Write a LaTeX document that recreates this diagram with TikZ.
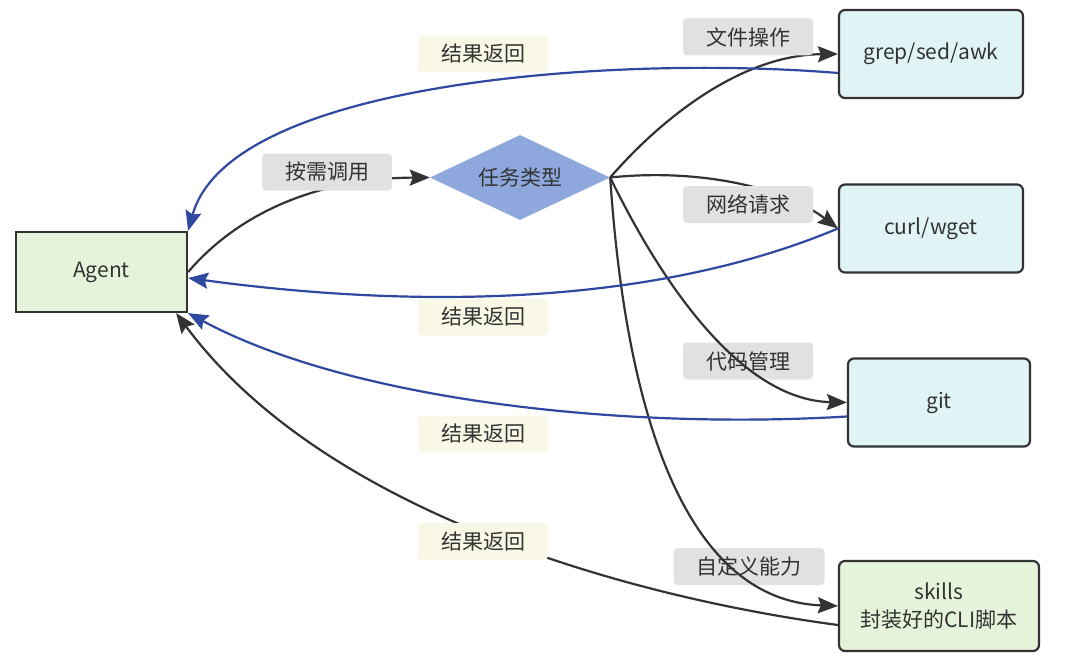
\documentclass[tikz,border=0pt]{standalone}
\usepackage{fontspec}
\setmainfont{Noto Sans CJK SC}
\usetikzlibrary{shapes.geometric,arrows.meta}

\definecolor{agentgreen}{HTML}{E6F3DB}
\definecolor{toolcyan}{HTML}{E0F4F6}
\definecolor{typeblue}{HTML}{8EA8DE}
\definecolor{labelgray}{HTML}{E1E1E1}
\definecolor{labelcream}{HTML}{F9F8E7}
\definecolor{backblue}{HTML}{2F48A0}
\definecolor{linegray}{HTML}{333333}

\begin{document}
\begin{tikzpicture}[x=1pt,y=-1pt,
		font=\fontsize{21}{28}\selectfont, text=linegray,
		box/.style={draw=linegray,line width=2.2pt,align=center,inner sep=0pt},
		agentbox/.style={box,fill=agentgreen,minimum width=171pt,minimum height=80pt},
		toolbox/.style={box,fill=toolcyan,rounded corners=6pt,minimum width=184pt,minimum height=88pt},
		callarrow/.style={draw=linegray,line width=2.2pt,-{Stealth[length=20pt,width=16pt,inset=3pt]}},
		backarrow/.style={callarrow,draw=backblue},
		tag/.style={fill=labelgray,rounded corners=4pt,inner xsep=23pt,inner ysep=0pt,minimum height=37pt},
		backtag/.style={tag,fill=labelcream}]
		
		\path[fill=white,use as bounding box] (0,0) rectangle (1080,669);
		
		% Boxes
		\node[agentbox] (agent) at (101.5,272) {Agent};
		\node[diamond,aspect=2.2,fill=typeblue,inner sep=0pt,minimum width=180pt,minimum height=85pt] (type) at (520,177.5) {任务类型};
		\node[toolbox] (grep) at (931,54) {grep/sed/awk};
		\node[toolbox] (curl) at (931,228.5) {curl/wget};
		\node[toolbox,minimum width=182pt] (git) at (939,402.5) {git};
		\node[toolbox,fill=agentgreen,minimum width=200pt,minimum height=90pt] (skills) at (939,606) {skills\\封装好的CLI脚本};
		
		% Labels under the lines
		\node[tag] (codeTag) at (748,361) {代码管理};
		\node[tag] (skillTag) at (749,566.5) {自定义能力};
		
		% Calls
		\draw[callarrow] (agent.east) .. controls (250,200) and (340,178) .. (type.west);
		\draw[callarrow] (type.east) .. controls (660,120) and (740,55) .. (grep.west);
		\draw[callarrow] (type.east) .. controls (700,168) and (785,188) .. (curl.west);
		\draw[callarrow] (type.east) .. controls (660,280) and (740,400) .. (git.west);
		\draw[callarrow] (type.east) .. controls (625,400) and (680,600) .. (skills.west);
		
		% Returns
		\draw[backarrow] ([yshift=-19pt]grep.west) .. controls (620,55) and (230,80) .. (agent.north east);
		\draw[backarrow] (curl.west) .. controls (620,320) and (350,300) .. ([yshift=-6pt]agent.east);
		\draw[backarrow] ([yshift=-14pt]git.west) .. controls (620,430) and (350,400) .. (agent.south east);
		\draw[callarrow] ([yshift=-19pt]skills.west) .. controls (650,600) and (330,520) .. ([xshift=-12pt]agent.south east);
		
		% Labels over the lines
		\node[tag] (callTag) at (327,172) {按需调用};
		\node[tag] (fileTag) at (748,37) {文件操作};
		\node[tag] (netTag) at (748,204.5) {网络请求};
		\node[backtag] (backGrep) at (483,54) {结果返回};
		\node[backtag] (backCurl) at (483,317) {结果返回};
		\node[backtag] (backGit) at (483,434) {结果返回};
		\node[backtag] (backSkills) at (483,541.5) {结果返回};
		
\end{tikzpicture}
\end{document}
